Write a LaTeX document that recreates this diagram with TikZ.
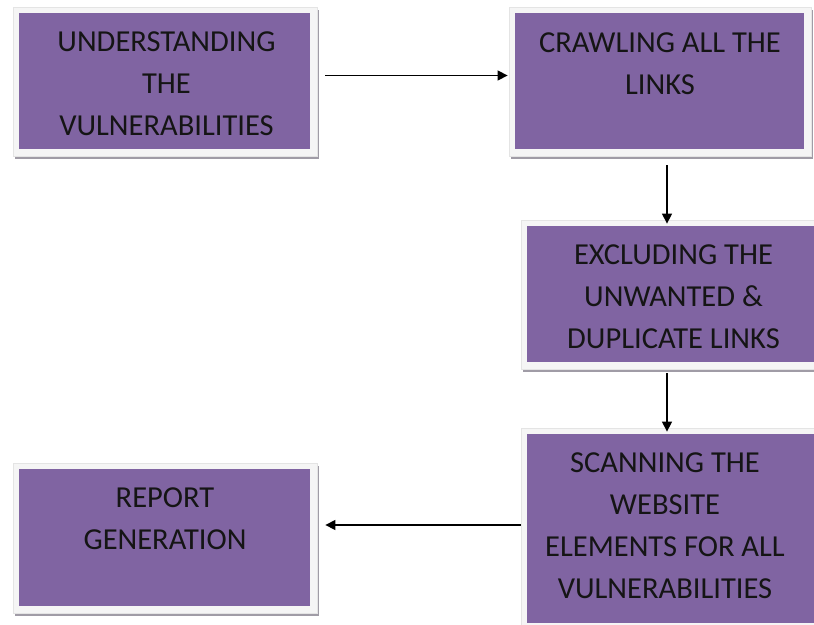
\documentclass[tikz,border=0pt]{standalone}
\usepackage{fontspec}
\setmainfont{Carlito}
\usetikzlibrary{arrows.meta,shadows,calc}
\definecolor{boxpurple}{HTML}{8064A2}
\definecolor{txt}{HTML}{151515}
\definecolor{rim}{HTML}{E4E4E4}
\definecolor{framefill}{HTML}{F5F5F5}
\definecolor{shade}{HTML}{A09CA6}
\tikzset{
  framebox/.style={rectangle, fill=framefill, draw=rim, line width=0.8pt, inner sep=0pt,
    minimum width=#1,
    drop shadow={shadow xshift=2pt, shadow yshift=-3pt, fill=shade, opacity=1},
    path picture={\fill[boxpurple] ([shift={(6pt,-6pt)}]path picture bounding box.north west)
      rectangle ([shift={(-7pt,7pt)}]path picture bounding box.south east);}},
  boxtext/.style={align=center, text=txt, inner sep=0pt,
    font=\fontsize{30.5}{42}\selectfont},
  arr/.style={draw=black, line width=1.4pt, -{Triangle[length=10pt,width=10pt]}}
}
\begin{document}
\begin{tikzpicture}[x=1pt,y=-1pt]
\useasboundingbox (0,0) rectangle (814,624);
\node[framebox=304pt, minimum height=149pt] (b1) at (165,81.5) {};
\node[framebox=302pt, minimum height=149pt] (b2) at (660,81.5) {};
\node[framebox=305pt, minimum height=149pt] (b3) at (673.5,294.5) {};
\node[framebox=305pt, minimum height=202pt] (b4) at (673.5,529) {};
\node[framebox=304pt, minimum height=150pt] (b5) at (165,538) {};
\node[boxtext] (t1) at (166.5,84) {UNDERSTANDING\\THE\\VULNERABILITIES};
\node[boxtext] (t2) at (660,64) {CRAWLING ALL THE\\LINKS};
\node[boxtext] (t3) at (673.5,296.5) {EXCLUDING THE\\UNWANTED \&\\DUPLICATE LINKS};
\node[boxtext] (t4) at (665,526) {SCANNING THE\\WEBSITE\\ELEMENTS FOR ALL\\VULNERABILITIES};
\node[boxtext] (t5) at (165,519) {REPORT\\GENERATION};
\draw[arr] ([shift={(8pt,6pt)}]b1.east) -- ([shift={(-1pt,6pt)}]b2.west);
\draw[arr] ([shift={(7pt,-9pt)}]b2.south) -- ([shift={(7pt,-4pt)}]b2.south |- b3.north);
\draw[arr] ([shift={(-6.5pt,-4pt)}]b3.south) -- ([shift={(-6.5pt,-4pt)}]b3.south |- b4.north);
\draw[arr] ([yshift=4pt]b4.west) -- ([xshift=8pt,yshift=4pt]b5.east |- b4.west);
\end{tikzpicture}
\end{document}
